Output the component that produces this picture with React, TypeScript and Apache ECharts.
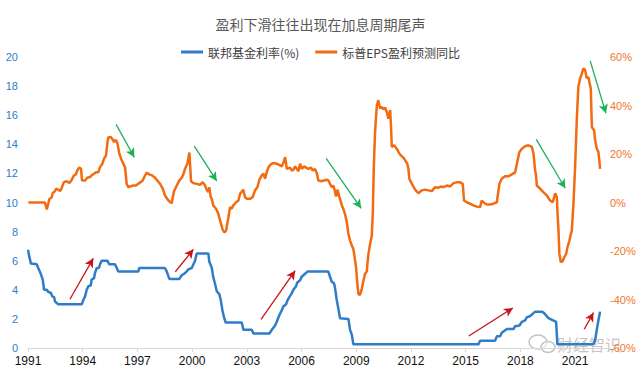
import React, { useEffect, useRef } from "react";
import * as echarts from "echarts";

const TITLE = "盈利下滑往往出现在加息周期尾声";
const SERIES_NAMES = ["联邦基金利率(%)", "标普EPS盈利预测同比"];

// Fed funds rate (left axis, %), x in decimal years
const fedYears = [
  1991.0, 1991.05, 1991.16, 1991.48, 1991.56, 1991.7, 1991.81, 1991.88, 1992.03, 1992.11, 1992.25, 1992.33, 1992.43, 1992.48, 1992.66,
  1993.95, 1994.03, 1994.13, 1994.22, 1994.31, 1994.44, 1994.49, 1994.62, 1994.67, 1994.77, 1994.89, 1994.95, 1995.04, 1995.35, 1995.46,
  1995.77, 1995.87, 1995.95, 1997.05, 1997.1, 1998.51, 1998.61, 1998.75, 1999.3, 1999.43, 1999.56, 1999.7, 1999.79, 1999.98, 2000.07,
  2000.16, 2000.25, 2000.89, 2000.94, 2001.08, 2001.16, 2001.26, 2001.35, 2001.49, 2001.57, 2001.66, 2001.75, 2001.84, 2002.72, 2002.81,
  2003.27, 2003.36, 2004.24, 2004.37, 2004.55, 2004.64, 2004.73, 2004.82, 2004.92, 2005.0, 2005.15, 2005.22, 2005.33, 2005.46, 2005.55,
  2005.7, 2005.77, 2005.92, 2006.01, 2006.19, 2006.32, 2007.47, 2007.56, 2007.66, 2007.78, 2007.84, 2007.93, 2008.02, 2008.11, 2008.57,
  2008.66, 2008.76, 2008.84, 2015.7, 2015.79, 2016.61, 2016.71, 2016.89, 2016.98, 2017.26, 2017.62, 2017.71, 2017.95, 2018.08, 2018.26,
  2018.35, 2018.54, 2018.72, 2018.81, 2019.18, 2019.3, 2019.54, 2019.96, 2020.03, 2022.01, 2022.1, 2022.19, 2022.28, 2022.37,
];
const fedRates = [
  6.75, 6.4, 5.8, 5.75, 5.5, 5.1, 4.7, 4.0, 4.0, 3.85, 3.8, 3.55, 3.5, 3.2, 3.0,
  3.0, 3.3, 3.55, 4.0, 4.25, 4.3, 4.7, 4.8, 5.15, 5.5, 5.5, 5.75, 6.0, 6.0, 5.75,
  5.75, 5.5, 5.25, 5.25, 5.5, 5.5, 5.25, 4.75, 4.75, 5.0, 5.1, 5.25, 5.4, 5.5, 5.75,
  6.0, 6.5, 6.5, 5.95, 5.5, 4.85, 4.4, 3.9, 3.7, 3.3, 2.6, 2.1, 1.75, 1.75, 1.25,
  1.25, 1.0, 1.0, 1.25, 1.55, 1.8, 2.1, 2.35, 2.6, 2.85, 3.0, 3.25, 3.5, 3.75, 4.0,
  4.25, 4.5, 4.65, 4.9, 5.1, 5.25, 5.25, 4.9, 4.55, 4.45, 4.1, 3.3, 2.7, 2.05, 2.0,
  1.25, 0.9, 0.25, 0.25, 0.5, 0.5, 0.8, 0.8, 1.05, 1.3, 1.3, 1.5, 1.55, 1.8, 1.9,
  2.1, 2.2, 2.4, 2.5, 2.5, 2.4, 2.05, 1.8, 0.25, 0.25, 0.55, 1.25, 1.9, 2.5,
];

// S&P EPS forecast YoY (right axis, %)
const epsYears = [
  1991.02, 1991.93, 1992.03, 1992.11, 1992.17, 1992.3, 1992.35, 1992.48, 1992.54, 1992.66, 1992.76, 1992.85, 1992.97, 1993.12, 1993.27,
  1993.4, 1993.52, 1993.63, 1993.7, 1993.81, 1993.91, 1993.96, 1994.13, 1994.25, 1994.4, 1994.49, 1994.62, 1994.73, 1994.86, 1994.95,
  1995.08, 1995.17, 1995.28, 1995.35, 1995.4, 1995.54, 1995.65, 1995.72, 1995.81, 1995.9, 1996.01, 1996.14, 1996.32, 1996.41, 1996.5,
  1996.59, 1996.78, 1996.92, 1997.05, 1997.18, 1997.29, 1997.42, 1997.51, 1997.65, 1997.79, 1997.97, 1998.09, 1998.24, 1998.39, 1998.51,
  1998.7, 1998.88, 1998.94, 1999.01, 1999.16, 1999.3, 1999.43, 1999.52, 1999.61, 1999.74, 1999.85, 1999.94, 2000.07, 2000.25, 2000.43,
  2000.58, 2000.71, 2000.8, 2000.89, 2000.94, 2001.02, 2001.08, 2001.16, 2001.31, 2001.44, 2001.53, 2001.68, 2001.77, 2001.86, 2001.99,
  2002.08, 2002.17, 2002.26, 2002.41, 2002.54, 2002.63, 2002.81, 2002.9, 2003.0, 2003.18, 2003.32, 2003.45, 2003.58, 2003.69, 2003.82,
  2003.91, 2004.0, 2004.09, 2004.18, 2004.31, 2004.45, 2004.64, 2004.82, 2004.92, 2005.0, 2005.1, 2005.15, 2005.19, 2005.37, 2005.46,
  2005.55, 2005.65, 2005.74, 2005.83, 2005.92, 2006.01, 2006.14, 2006.25, 2006.37, 2006.51, 2006.62, 2006.74, 2006.84, 2006.92, 2007.11,
  2007.24, 2007.38, 2007.47, 2007.56, 2007.66, 2007.75, 2007.84, 2007.89, 2007.97, 2008.08, 2008.21, 2008.29, 2008.38, 2008.48, 2008.57,
  2008.66, 2008.76, 2008.84, 2008.9, 2008.99, 2009.06, 2009.12, 2009.21, 2009.3, 2009.39, 2009.48, 2009.58, 2009.61, 2009.67, 2009.76,
  2009.85, 2009.91, 2009.96, 2010.02, 2010.06, 2010.13, 2010.21, 2010.31, 2010.4, 2010.49, 2010.58, 2010.67, 2010.76, 2010.86, 2010.91,
  2010.95, 2011.08, 2011.22, 2011.37, 2011.5, 2011.59, 2011.68, 2011.8, 2011.86, 2011.91, 2012.05, 2012.23, 2012.41, 2012.59, 2012.78,
  2012.96, 2013.14, 2013.32, 2013.51, 2013.64, 2013.78, 2013.97, 2014.15, 2014.33, 2014.51, 2014.7, 2014.84, 2014.91, 2015.06, 2015.24,
  2015.42, 2015.61, 2015.79, 2015.88, 2015.97, 2016.16, 2016.34, 2016.52, 2016.71, 2016.85, 2016.98, 2017.16, 2017.34, 2017.53, 2017.71,
  2017.84, 2017.95, 2018.08, 2018.26, 2018.44, 2018.63, 2018.72, 2018.81, 2018.86, 2018.9, 2019.08, 2019.26, 2019.45, 2019.63, 2019.78,
  2019.85, 2019.91, 2020.0, 2020.03, 2020.09, 2020.14, 2020.22, 2020.33, 2020.4, 2020.51, 2020.58, 2020.69, 2020.77, 2020.82, 2020.91,
  2021.0, 2021.1, 2021.18, 2021.28, 2021.37, 2021.46, 2021.55, 2021.64, 2021.73, 2021.78, 2021.86, 2021.92, 2021.97, 2022.04, 2022.1,
  2022.19, 2022.28, 2022.33, 2022.37,
];
const epsYoY = [
  0, 0, -2.9, -0.5, 1.4, 2.2, 3.8, 4.7, 5.7, 5.3, 4.7, 6.1, 8.4, 8.8, 8.0,
  9.4, 11.2, 11.6, 13.2, 14.4, 13.9, 9.1, 9.1, 10.2, 10.5, 11.2, 11.9, 12.5, 12.5, 14.6,
  16.0, 18.1, 19.4, 24.3, 26.8, 27.0, 25.9, 24.9, 25.9, 24.5, 20.1, 17.4, 14.6, 7.7, 6.3,
  6.6, 7.0, 7.0, 7.7, 8.4, 9.1, 11.2, 12.3, 11.6, 11.2, 10.2, 9.1, 7.7, 5.7, 2.9,
  0.8, -0.3, 2.2, 4.7, 7.0, 9.1, 10.2, 11.6, 13.9, 16.0, 20.6, 8.8, 8.0, 7.7, 7.3,
  8.4, 7.0, 5.2, 4.3, 6.3, 2.2, 1.5, -1.2, -2.6, -4.7, -7.4, -11.3, -12.3, -11.6, -6.1,
  -1.9, -2.6, -1.2, 0.1, 0.8, 3.6, 5.3, 2.2, 1.5, 1.5, 2.2, 5.0, 6.3, 9.4, 11.2,
  11.9, 9.8, 12.5, 14.4, 15.7, 16.3, 16.0, 15.3, 14.9, 16.3, 18.7, 16.3, 13.9, 14.4, 13.2,
  13.5, 14.9, 13.9, 12.9, 16.0, 13.9, 14.9, 14.4, 13.9, 14.4, 13.2, 13.8, 12.1, 9.1, 8.8,
  9.1, 9.4, 9.1, 7.7, 6.3, 7.0, 4.3, 2.5, 5.3, 2.2, -1.2, -2.6, -4.7, -8.0, -13.0,
  -15.7, -17.8, -19.2, -21.9, -26.8, -33.6, -37.8, -38.1, -35.7, -32.3, -29.5, -28.4, -25.4, -21.2, -17.1,
  -13.7, -4.0, 14.0, 27.0, 32.6, 40.1, 42.2, 38.8, 39.4, 38.4, 39.2, 37.4, 34.6, 38.1, 30.5,
  22.9, 23.6, 22.2, 20.1, 19.0, 18.5, 17.4, 16.0, 13.9, 9.8, 7.7, 5.3, 3.8, 5.0, 5.3,
  5.0, 4.7, 6.3, 6.1, 6.6, 6.3, 7.0, 6.6, 8.0, 8.3, 8.3, 7.7, 0.8, 0.1, -0.5,
  -1.2, -1.7, -1.9, 0.8, 0.1, -0.8, -0.8, -0.5, 0.1, 7.7, 9.8, 10.8, 10.8, 11.6, 12.4,
  17.1, 20.8, 22.2, 23.2, 23.6, 22.9, 20.1, 13.2, 11.2, 7.0, 5.7, 4.3, 2.9, 0.8, 0.1,
  2.2, 3.8, 2.2, -3.3, -11.6, -21.2, -24.7, -24.0, -22.6, -21.2, -18.5, -15.7, -12.9, -11.6, -0.5,
  14.6, 35.3, 47.7, 51.2, 53.2, 55.3, 54.6, 51.2, 51.8, 49.8, 47.0, 31.2, 30.5, 29.8, 25.7,
  22.2, 20.8, 17.4, 13.9,
];

// Annotation arrows, in data coordinates of the left axis: [x1, y1, x2, y2]
const greenArrows = [
  [1995.83, 15.37, 1996.83, 13.11],
  [2000.12, 13.88, 2001.35, 11.48],
  [2007.35, 13.04, 2009.27, 9.6],
  [2018.87, 14.34, 2020.46, 10.98],
  [2021.83, 19.73, 2022.69, 16.13],
];
const redArrows = [
  [1993.3, 3.35, 1994.58, 6.16],
  [1999.08, 5.24, 2000.07, 6.78],
  [2003.78, 1.97, 2005.65, 5.31],
  [2015.17, 0.82, 2017.59, 2.75],
  [2021.5, 1.29, 2022.01, 2.43],
];

const X_MIN = 1991;
const X_MAX = 2022.75;
const X_LAST_LABEL = 2021;

const BLUE = "#2E7DC6";
const ORANGE = "#F26B10";
const GREEN = "#1DB05A";
const RED = "#C8151B";

const FONT = "'Liberation Sans', Arial, 'Noto Sans CJK SC', sans-serif";
const CJK = "'Noto Sans CJK SC', sans-serif";

export default function App() {
  const ref = useRef<HTMLDivElement>(null);

  useEffect(() => {
    if (!ref.current) return;
    const chart = echarts.init(ref.current, undefined, { renderer: "svg" });

    const arrowData = (list: number[][], color: string) =>
      list.map((a) => [
        { coord: [a[0], a[1]], lineStyle: { color, width: 1.3, type: "solid" }, itemStyle: { color } },
        { coord: [a[2], a[3]], lineStyle: { color, width: 1.3, type: "solid" }, itemStyle: { color } },
      ]);

    chart.setOption({
      animation: false,
      backgroundColor: "#ffffff",
      title: {
        text: TITLE,
        left: "center",
        top: 12,
        textStyle: { fontFamily: CJK, fontSize: 14, fontWeight: "normal", color: "#595959" },
      },
      legend: {
        top: 41,
        left: "center",
        itemWidth: 22,
        itemHeight: 3,
        itemGap: 16,
        icon: "rect",
        textStyle: { fontFamily: CJK, fontSize: 12, color: "#404040" },
        data: SERIES_NAMES,
      },
      grid: { left: 28, right: 34, top: 57, bottom: 27, containLabel: false },
      xAxis: {
        type: "value",
        min: X_MIN,
        max: X_MAX,
        interval: 3,
        splitLine: { show: false },
        axisLine: { show: true, onZero: false, lineStyle: { color: "#D9D9D9", width: 1 } },
        axisTick: { show: true, length: 4, lineStyle: { color: "#D9D9D9" } },
        axisLabel: {
          margin: 7,
          fontFamily: FONT,
          fontSize: 12,
          color: "#111111",
          showMaxLabel: false,
          formatter: (v: number) => {
            const r = Math.round(v);
            if (Math.abs(v - r) > 1e-6 || (r - X_MIN) % 3 !== 0 || r > X_LAST_LABEL) return "";
            return String(r);
          },
        },
      },
      yAxis: [
        {
          type: "value",
          min: 0,
          max: 20,
          interval: 2,
          splitLine: { show: false },
          axisLine: { show: false },
          axisTick: { show: false },
          axisLabel: { margin: 10, fontFamily: FONT, fontSize: 11, color: BLUE },
        },
        {
          type: "value",
          min: -60,
          max: 60,
          interval: 20,
          position: "right",
          splitLine: { show: false },
          axisLine: { show: false },
          axisTick: { show: false },
          axisLabel: { margin: 3, fontFamily: FONT, fontSize: 11, color: "#F0772A", formatter: "{value}%" },
        },
      ],
      series: [
        {
          name: SERIES_NAMES[0],
          type: "line",
          yAxisIndex: 0,
          data: fedYears.map((y, i) => [y, fedRates[i]]),
          showSymbol: false,
          symbol: "none",
          lineStyle: { color: BLUE, width: 2.5 },
          itemStyle: { color: BLUE },
          z: 3,
          markLine: {
            silent: true,
            symbol: ["none", "arrow"],
            symbolSize: [7, 9],
            label: { show: false },
            emphasis: { disabled: true },
            data: [...arrowData(greenArrows, GREEN), ...arrowData(redArrows, RED)],
          },
        },
        {
          name: SERIES_NAMES[1],
          type: "line",
          yAxisIndex: 1,
          data: epsYears.map((y, i) => [y, epsYoY[i]]),
          showSymbol: false,
          symbol: "none",
          lineStyle: { color: ORANGE, width: 2.5 },
          itemStyle: { color: ORANGE },
          z: 2,
        },
      ],
      graphic: [
        {
          type: "group",
          z: 100,
          children: [
            { type: "ellipse", shape: { cx: 538, cy: 342, rx: 9, ry: 7 }, style: { fill: "rgba(255,255,255,0.6)", stroke: "#C4C4C4", lineWidth: 1.5 } },
            { type: "ellipse", shape: { cx: 548, cy: 347, rx: 7, ry: 5.5 }, style: { fill: "rgba(255,255,255,0.6)", stroke: "#C4C4C4", lineWidth: 1.5 } },
            {
              type: "text",
              x: 557,
              y: 344,
              style: { text: "财经智识", font: "16px 'Noto Sans CJK SC', sans-serif", lineHeight: 16, fill: "rgba(185,185,185,0.85)", textVerticalAlign: "middle" },
            },
          ],
        },
      ],
    });

    return () => chart.dispose();
  }, []);

  return (
    <div
      ref={ref}
      style={{ position: "fixed", left: 0, top: 0, width: 641, height: 375, background: "#fff" }}
    />
  );
}
